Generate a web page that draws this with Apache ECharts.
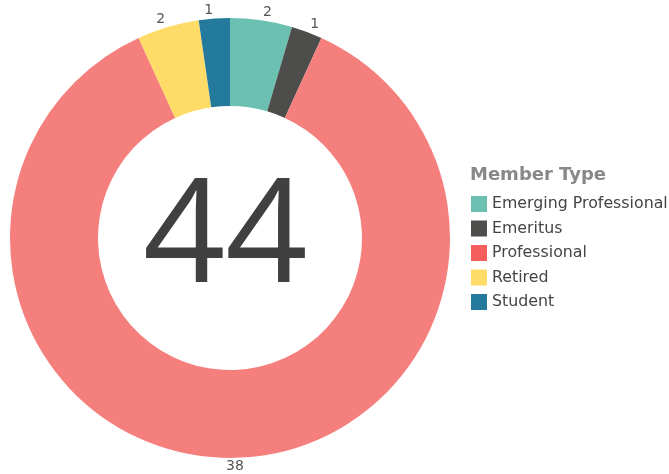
<!DOCTYPE html>
<html lang="en">
<head>
    <meta charset="UTF-8">
    <title>Member Type</title>
    <style>
        * { padding: 0; margin: 0; box-sizing: border-box; }
        html, body, .chart-container { width: 100%; height: 100%; background: #fff; }
    </style>
</head>
<body>
    <div id="chart-container" class="chart-container"></div>
    <script src="https://cdn.jsdelivr.net/npm/echarts@6/dist/echarts.min.js"></script>
    <script>
        // 分类与数值
        const memberTypes = ['Emerging Professional', 'Emeritus', 'Professional', 'Retired', 'Student']
        const memberCounts = [2, 1, 38, 2, 1]
        const sliceColors = ['#6cc0b1', '#4d4d4b', '#f57f7d', '#fedc67', '#237a9d']
        const legendColors = ['#6cc0b1', '#4d4d4b', '#f45f5e', '#fedc67', '#237a9d']

        const total = memberCounts.reduce((a, b) => a + b, 0)

        var myChart = echarts.init(document.getElementById('chart-container'))

        var option = {
            backgroundColor: '#fff',
            animation: false,
            title: {
                text: 'Member Type',
                left: 470,
                top: 166,
                padding: 0,
                textStyle: {
                    fontFamily: 'DejaVu Sans',
                    fontSize: 18,
                    fontWeight: 'bold',
                    color: '#888'
                }
            },
            legend: {
                orient: 'vertical',
                left: 471,
                top: 196,
                padding: 0,
                itemWidth: 16,
                itemHeight: 16,
                itemGap: 8.5,
                icon: 'rect',
                textStyle: {
                    fontFamily: 'DejaVu Sans',
                    fontSize: 15.8,
                    color: '#444'
                },
                data: memberTypes.map((name, i) => ({
                    name: name,
                    itemStyle: { color: legendColors[i] }
                }))
            },
            graphic: [{
                type: 'text',
                left: 143,
                top: 169,
                style: {
                    text: String(total),
                    fontFamily: 'Open Sans',
                    fontSize: 144,
                    fill: '#404040'
                }
            }],
            series: [{
                type: 'pie',
                center: [230, 238],
                radius: [132, 220],
                startAngle: 90,
                clockwise: true,
                avoidLabelOverlap: false,
                label: {
                    show: true,
                    position: 'outside',
                    formatter: '{c}',
                    fontFamily: 'DejaVu Sans',
                    fontSize: 14,
                    color: '#555'
                },
                labelLine: {
                    show: false,
                    length: 8,
                    length2: 0
                },
                labelLayout: {
                    align: 'center',
                    verticalAlign: 'middle'
                },
                itemStyle: { borderWidth: 0 },
                emphasis: { disabled: true },
                data: memberTypes.map((name, i) => ({
                    name: name,
                    value: memberCounts[i],
                    itemStyle: { color: sliceColors[i] }
                }))
            }]
        }
        myChart.setOption(option)
    </script>
</body>
</html>
